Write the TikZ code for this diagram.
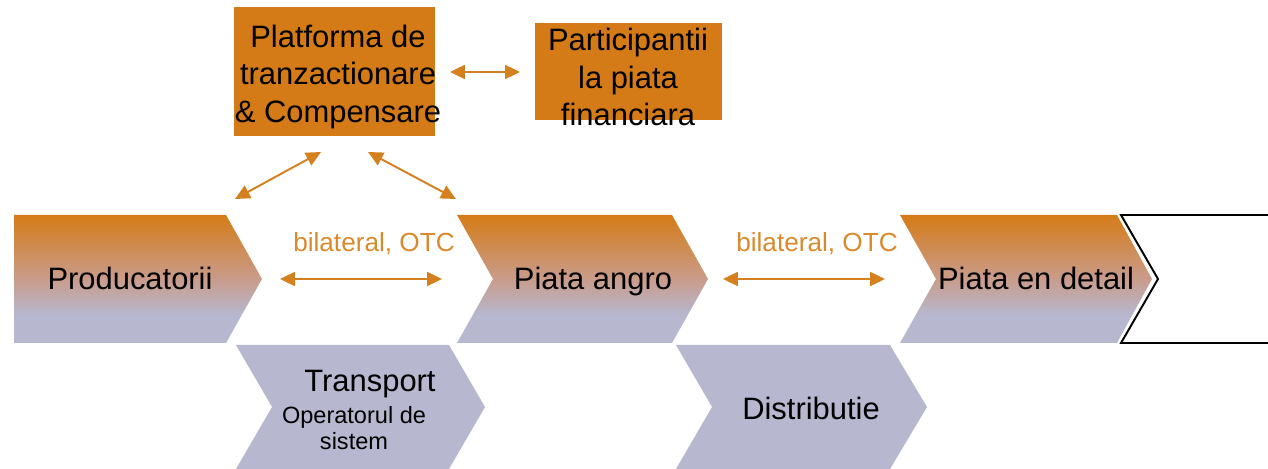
\documentclass[tikz,border=0pt]{standalone}
\usepackage{fontspec}
\setmainfont{Liberation Sans}
\usetikzlibrary{arrows.meta}

\definecolor{boxorange}{HTML}{D47B17}
\definecolor{arrorange}{HTML}{D4801F}
\definecolor{lblorange}{HTML}{D98A2C}
\definecolor{lavender}{HTML}{B7B7CF}
\definecolor{midtone}{HTML}{C99C8B}

\pgfdeclareverticalshading{chevshade}{100bp}{color(0bp)=(lavender); color(36bp)=(lavender);
    color(50bp)=(midtone); color(75bp)=(boxorange); color(100bp)=(boxorange)}

\begin{document}
\begin{tikzpicture}[x = 0.02cm, y = -0.02cm,
    big/.style = {font = \fontsize{17.6}{21}\selectfont, align = center},
    stack/.style = {font = \fontsize{17.6}{21.2}\selectfont, align = center},
    small/.style = {font = \fontsize{13.4}{14.5}\selectfont, align = center},
    lbl/.style = {font = \fontsize{14.9}{17}\selectfont, text = lblorange},
    link/.style = {draw = arrorange, line width = 1.1pt,
        {Triangle[length = 8.5pt, width = 8pt]}-{Triangle[length = 8.5pt, width = 8pt]}},
    grad/.style = {shading = chevshade}]
        \useasboundingbox (0, 0) rectangle (1268, 469);

        % top boxes
        \fill[boxorange] (234, 7) rectangle (435, 136);
        \node[stack] (platforma) at (338, 77) {Platforma de\\tranzactionare\\\& Compensare};
        \fill[boxorange] (535, 23) rectangle (722, 120);
        \node[stack] (participanti) at (628, 77) {Participantii\\la piata\\financiara};

        % upper row of chevrons
        \shade[grad] (14, 215) -- (226, 215) -- (262, 279) -- (226, 343) -- (14, 343) -- cycle;
        \shade[grad] (457, 215) -- (672, 215) -- (708, 279) -- (672, 343) -- (457, 343) -- (493, 279) -- cycle;
        \shade[grad] (900, 215) -- (1117, 215) -- (1152, 279) -- (1117, 343) -- (900, 343) -- (936, 279) -- cycle;
        \draw[black, line width = 1.1pt] (1268, 215) -- (1121, 215) -- (1158, 279) -- (1121, 343) -- (1268, 343);

        \node[big, anchor = base] (producatori) at (130, 290) {Producatorii};
        \node[big, anchor = base] (angro) at (593, 290) {Piata angro};
        \node[big, anchor = base] (detail) at (1036, 290) {Piata en detail};

        % lower row of chevrons
        \fill[lavender] (236, 345) -- (449, 345) -- (485, 407) -- (449, 469) -- (236, 469) -- (272, 407) -- cycle;
        \fill[lavender] (676, 345) -- (890, 345) -- (927, 407) -- (890, 469) -- (676, 469) -- (712, 407) -- cycle;

        \node[big, anchor = base] (transport) at (370, 392) {Transport};
        \node[small] (operator) at (354, 428) {Operatorul de\\sistem};
        \node[big, anchor = base] (distributie) at (811, 419) {Distributie};

        % links
        \coordinate (pA) at (450, 72);
        \coordinate (pB) at (520, 72);
        \coordinate (dL1) at (235, 199);
        \coordinate (dL2) at (321, 152);
        \coordinate (dR1) at (368, 152);
        \coordinate (dR2) at (456, 199);
        \coordinate (h1a) at (280, 279);
        \coordinate (h1b) at (442, 279);
        \coordinate (h2a) at (723, 279);
        \coordinate (h2b) at (885, 279);

        \draw[link] (pA) -- (pB);
        \draw[link] (dL1) -- (dL2);
        \draw[link] (dR1) -- (dR2);
        \draw[link] (h1a) -- (h1b);
        \draw[link] (h2a) -- (h2b);

        \node[lbl, anchor = base] (otc1) at (374, 252) {bilateral, OTC};
        \node[lbl, anchor = base] (otc2) at (817, 252) {bilateral, OTC};
\end{tikzpicture}
\end{document}
